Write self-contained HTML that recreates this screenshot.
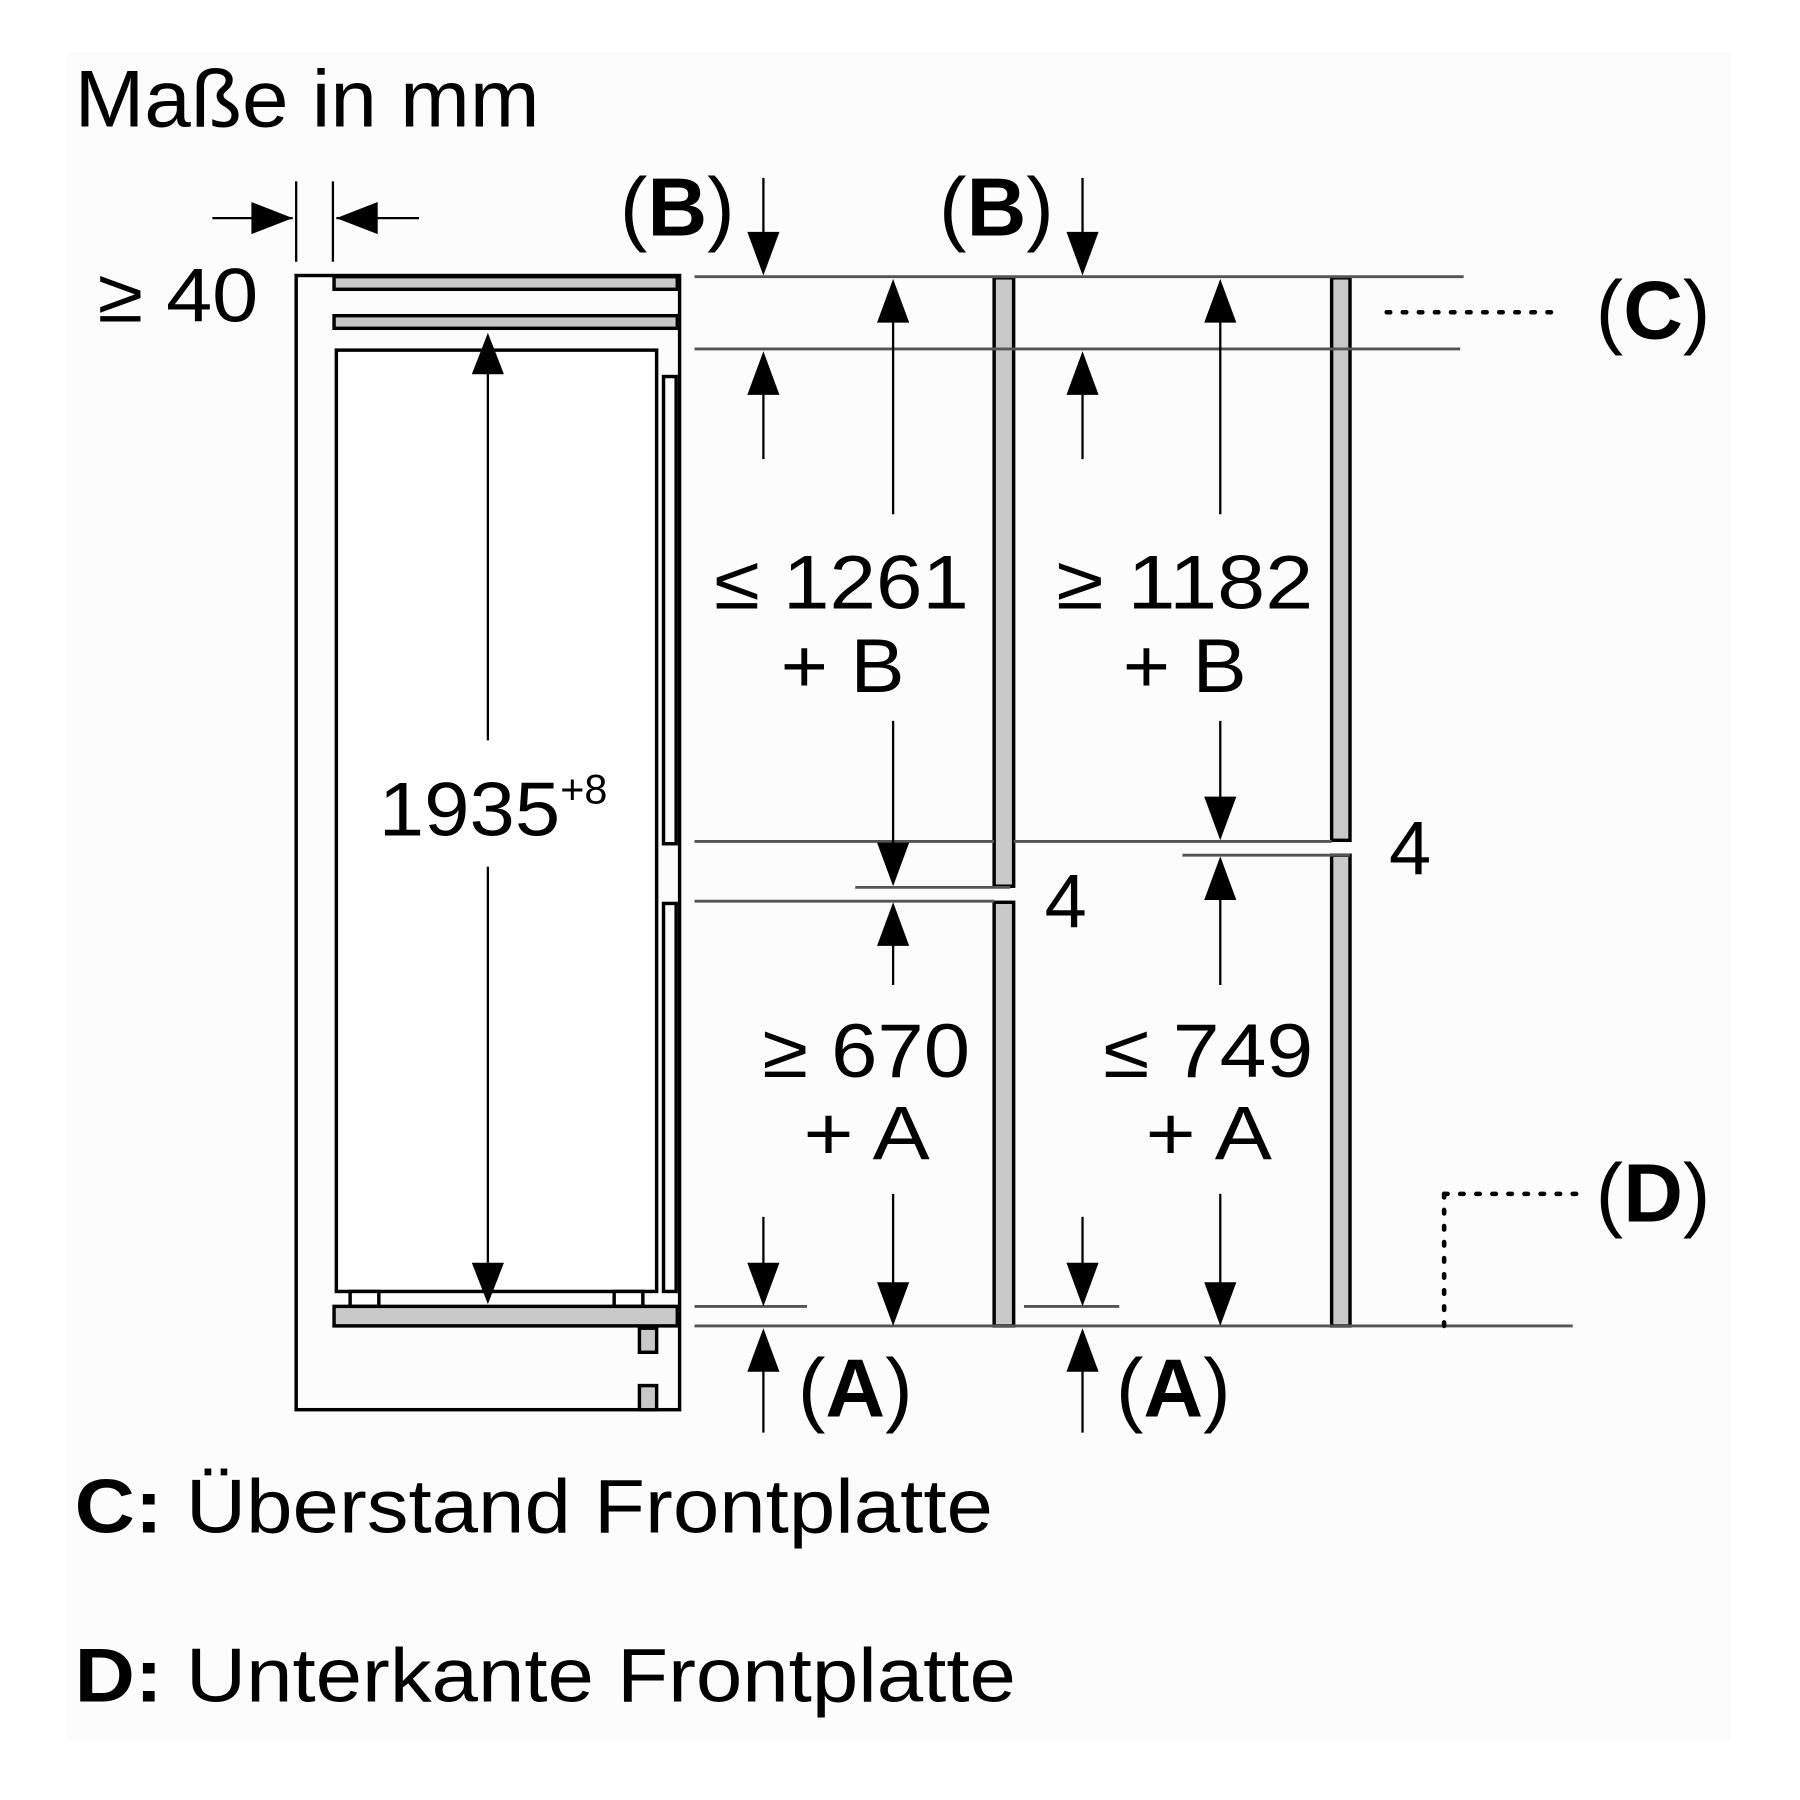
<!DOCTYPE html>
<html><head><meta charset="utf-8"><style>html,body{margin:0;padding:0;background:#fff}svg{display:block}</style></head>
<body>
<svg width="1800" height="1800" viewBox="0 0 1568 1568" xmlns="http://www.w3.org/2000/svg" font-family="'Liberation Sans', Arial, sans-serif">
<rect x="0" y="0" width="1568" height="1568" fill="#ffffff"/>
<rect x="58" y="45" width="1450" height="1472" fill="#fcfcfc"/>
<text x="65" y="110" font-size="70" textLength="405" lengthAdjust="spacingAndGlyphs">Maße in mm</text>

<g stroke="#000" fill="none" stroke-width="3">
<rect x="258" y="240" width="334" height="988"/>
<rect x="293" y="305" width="279" height="820" fill="#fff"/>
<rect x="291" y="241" width="299" height="11" fill="#c8c8c8"/>
<rect x="291" y="275" width="299" height="11" fill="#c8c8c8"/>
<rect x="578" y="328" width="11" height="407" fill="#fff"/>
<rect x="578" y="787" width="11" height="338" fill="#fff"/>
<rect x="305" y="1125" width="25" height="13" fill="#fff"/>
<rect x="535" y="1125" width="25" height="13" fill="#fff"/>
<rect x="291" y="1138" width="299" height="17" fill="#c8c8c8"/>
<rect x="557" y="1157" width="15" height="21" fill="#c8c8c8"/>
<rect x="557" y="1207" width="15" height="21" fill="#c8c8c8"/>
<rect x="866" y="242" width="17" height="530" fill="#c8c8c8"/>
<rect x="866" y="786" width="17" height="369" fill="#c8c8c8"/>
<rect x="1160" y="242" width="16" height="490" fill="#c8c8c8"/>
<rect x="1160" y="745" width="16" height="410" fill="#c8c8c8"/>
</g>

<g stroke="#555" stroke-width="2.5" fill="none">
<line x1="605" y1="241" x2="1275" y2="241"/>
<line x1="605" y1="304" x2="1272" y2="304"/>
<line x1="605" y1="733" x2="866" y2="733"/>
<line x1="745" y1="773" x2="880" y2="773"/>
<line x1="605" y1="785" x2="866" y2="785"/>
<line x1="883" y1="733" x2="1160" y2="733"/>
<line x1="1030" y1="745" x2="1176" y2="745"/>
<line x1="605" y1="1138" x2="703" y2="1138"/>
<line x1="892" y1="1138" x2="975" y2="1138"/>
<line x1="605" y1="1155" x2="1370" y2="1155"/>
</g>

<g stroke="#000" stroke-width="2" fill="none">
<line x1="258" y1="158" x2="258" y2="228"/>
<line x1="290" y1="158" x2="290" y2="228"/>
<line x1="185" y1="190" x2="255" y2="190"/>
<line x1="293" y1="190" x2="365" y2="190"/>
<line x1="425" y1="320" x2="425" y2="645"/>
<line x1="425" y1="755" x2="425" y2="1100"/>
<line x1="665" y1="155" x2="665" y2="210"/>
<line x1="665" y1="335" x2="665" y2="400"/>
<line x1="778" y1="275" x2="778" y2="448"/>
<line x1="778" y1="628" x2="778" y2="740"/>
<line x1="943" y1="155" x2="943" y2="210"/>
<line x1="943" y1="335" x2="943" y2="400"/>
<line x1="1063" y1="275" x2="1063" y2="448"/>
<line x1="1063" y1="628" x2="1063" y2="700"/>
<line x1="778" y1="818" x2="778" y2="858"/>
<line x1="778" y1="1040" x2="778" y2="1120"/>
<line x1="1063" y1="778" x2="1063" y2="858"/>
<line x1="1063" y1="1040" x2="1063" y2="1120"/>
<line x1="665" y1="1060" x2="665" y2="1105"/>
<line x1="665" y1="1190" x2="665" y2="1248"/>
<line x1="943" y1="1060" x2="943" y2="1105"/>
<line x1="943" y1="1190" x2="943" y2="1248"/>
</g>

<g fill="#000">
<polygon points="255,190 219,176 219,204"/>
<polygon points="293,190 329,176 329,204"/>
<polygon points="425,290 411,326 439,326"/>
<polygon points="425,1136 411,1100 439,1100"/>
<polygon points="665,240 651,202 679,202"/>
<polygon points="665,306 651,344 679,344"/>
<polygon points="778,243 764,281 792,281"/>
<polygon points="778,772 764,734 792,734"/>
<polygon points="943,240 929,202 957,202"/>
<polygon points="943,306 929,344 957,344"/>
<polygon points="1063,243 1049,281 1077,281"/>
<polygon points="1063,732 1049,694 1077,694"/>
<polygon points="778,786 764,824 792,824"/>
<polygon points="778,1155 764,1117 792,1117"/>
<polygon points="1063,746 1049,784 1077,784"/>
<polygon points="1063,1155 1049,1117 1077,1117"/>
<polygon points="665,1138 651,1100 679,1100"/>
<polygon points="665,1157 651,1195 679,1195"/>
<polygon points="943,1138 929,1100 957,1100"/>
<polygon points="943,1157 929,1195 957,1195"/>
</g>

<g stroke="#000" stroke-width="4" stroke-dasharray="3,11" fill="none" stroke-linecap="round">
<line x1="1208" y1="272" x2="1360" y2="272"/>
<line x1="1258" y1="1040" x2="1375" y2="1040"/>
<line x1="1258" y1="1040" x2="1258" y2="1155"/>
</g>

<g fill="#000" font-size="66">
<text x="85" y="280" textLength="140" lengthAdjust="spacingAndGlyphs">≥ 40</text>
<text x="330" y="728" textLength="158" lengthAdjust="spacingAndGlyphs">1935</text>
<text x="488" y="700" font-size="36">+8</text>
<text x="622" y="530" textLength="222" lengthAdjust="spacingAndGlyphs">≤ 1261</text>
<text x="680" y="603" textLength="108" lengthAdjust="spacingAndGlyphs">+ B</text>
<text x="920" y="530" textLength="224" lengthAdjust="spacingAndGlyphs">≥ 1182</text>
<text x="978" y="603" textLength="108" lengthAdjust="spacingAndGlyphs">+ B</text>
<text x="910" y="808">4</text>
<text x="1210" y="762">4</text>
<text x="664" y="938" textLength="181" lengthAdjust="spacingAndGlyphs">≥ 670</text>
<text x="700" y="1010" textLength="110" lengthAdjust="spacingAndGlyphs">+ A</text>
<text x="961" y="938" textLength="183" lengthAdjust="spacingAndGlyphs">≤ 749</text>
<text x="998" y="1010" textLength="110" lengthAdjust="spacingAndGlyphs">+ A</text>
</g>
<g fill="#000" font-size="72">
<text x="540" y="205" textLength="100" lengthAdjust="spacingAndGlyphs">(<tspan font-weight="bold">B</tspan>)</text>
<text x="818" y="205" textLength="100" lengthAdjust="spacingAndGlyphs">(<tspan font-weight="bold">B</tspan>)</text>
<text x="1390" y="295" textLength="100" lengthAdjust="spacingAndGlyphs">(<tspan font-weight="bold">C</tspan>)</text>
<text x="1390" y="1064" textLength="100" lengthAdjust="spacingAndGlyphs">(<tspan font-weight="bold">D</tspan>)</text>
<text x="695" y="1234" textLength="100" lengthAdjust="spacingAndGlyphs">(<tspan font-weight="bold">A</tspan>)</text>
<text x="972" y="1234" textLength="100" lengthAdjust="spacingAndGlyphs">(<tspan font-weight="bold">A</tspan>)</text>
</g>
<g fill="#000" font-size="66">
<text x="65" y="1335" textLength="800" lengthAdjust="spacingAndGlyphs"><tspan font-weight="bold">C:</tspan> Überstand Frontplatte</text>
<text x="65" y="1482" textLength="820" lengthAdjust="spacingAndGlyphs"><tspan font-weight="bold">D:</tspan> Unterkante Frontplatte</text>
</g>
</svg>
</body></html>
